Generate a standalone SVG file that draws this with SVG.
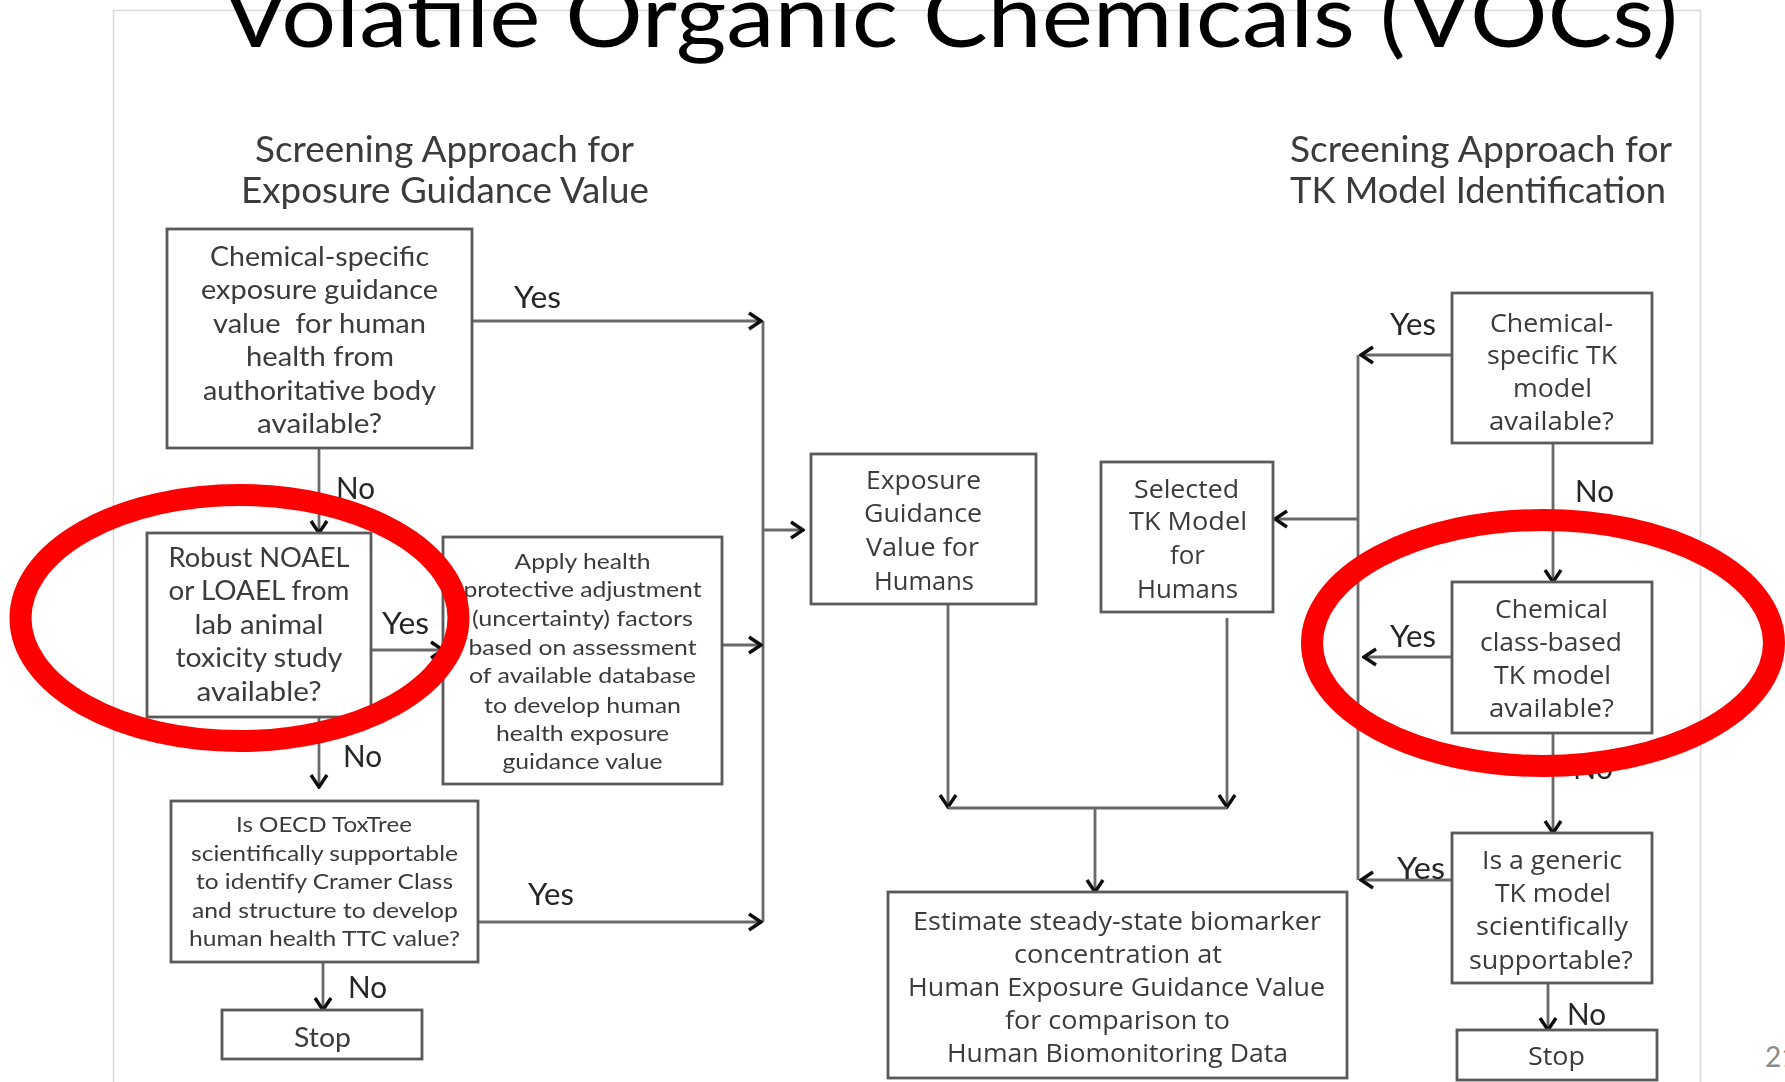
<svg xmlns="http://www.w3.org/2000/svg" width="1785" height="1082" viewBox="0 0 1785 1082">
  <defs>
    <marker id="arr" markerUnits="userSpaceOnUse" viewBox="0 0 16 20" refX="14" refY="10" markerWidth="16" markerHeight="20" orient="auto">
      <path d="M2,2 L14,10 L2,18" fill="none" stroke="#111" stroke-width="3.4" stroke-linejoin="miter"/>
    </marker>
    <filter id="soft" x="-2%" y="-2%" width="104%" height="104%">
      <feGaussianBlur stdDeviation="0.6"/>
    </filter>
    <style>
      .frame { fill: none; stroke: #dadada; stroke-width: 1.5; }
      .title { font-family: Lato, "Open Sans", sans-serif; font-size: 88px; fill: #000; }
      .sub { font-family: Lato, "Open Sans", sans-serif; font-size: 36px; fill: #3a3a3a; }
      .box { fill: #fff; stroke: #5a5a5a; stroke-width: 2.8; }
      .cal { font-family: Lato, "Open Sans", sans-serif; font-size: 26px; fill: #3a3a3a; }
      .cal-s { font-family: Lato, "Open Sans", sans-serif; font-size: 22px; fill: #3a3a3a; }
      .tah { font-family: "Open Sans", "DejaVu Sans", sans-serif; font-size: 25px; fill: #3a3a3a; }
      .lbl { font-family: Lato, "Open Sans", sans-serif; font-size: 30px; fill: #262626; }
      .conn path { fill: none; stroke: #6a6a6a; stroke-width: 2.8; }
      .conn .a { marker-end: url(#arr); }
      .ring { fill: none; stroke: #ff0000; stroke-width: 22; }
      .pg { font-family: Lato, "Open Sans", sans-serif; font-size: 28px; fill: #8a8a8a; }
    </style>
  </defs>

  <rect width="1785" height="1082" fill="#fff"/>
  <rect class="frame" x="113.5" y="10.5" width="1587" height="1100"/>

  <text class="title" x="223" y="47" textLength="1455" lengthAdjust="spacingAndGlyphs">Volatile Organic Chemicals (VOCs)</text>

  <g id="flowchart" filter="url(#soft)">
    <g id="heading-left">
      <text class="sub" x="255" y="162" textLength="379" lengthAdjust="spacingAndGlyphs">Screening Approach for</text>
      <text class="sub" x="241" y="203" textLength="408" lengthAdjust="spacingAndGlyphs">Exposure Guidance Value</text>
    </g>
    <g id="heading-right">
      <text class="sub" x="1290" y="162" textLength="382" lengthAdjust="spacingAndGlyphs">Screening Approach for</text>
      <text class="sub" x="1290" y="203" textLength="376" lengthAdjust="spacingAndGlyphs">TK Model Identification</text>
    </g>

    <!-- connectors -->
    <g id="connectors" class="conn">
      <path d="M763,321 V922"/>
      <path class="a" d="M472,321 H761"/>
      <path class="a" d="M319,448 V533"/>
      <path class="a" d="M371,650 H443"/>
      <path class="a" d="M319,717 V787"/>
      <path class="a" d="M722,645 H761"/>
      <path class="a" d="M763,530 H803"/>
      <path class="a" d="M478,922 H761"/>
      <path class="a" d="M323,962 V1010"/>
      <path class="a" d="M948,604 V807"/>
      <path class="a" d="M1227,618 V807"/>
      <path d="M948,808 H1227"/>
      <path class="a" d="M1095,808 V892"/>
      <path d="M1358,355 V880"/>
      <path class="a" d="M1452,355 H1361"/>
      <path class="a" d="M1358,519 H1275"/>
      <path class="a" d="M1452,657 H1364"/>
      <path class="a" d="M1452,880 H1361"/>
      <path class="a" d="M1553,443 V582"/>
      <path class="a" d="M1553,733 V833"/>
      <path class="a" d="M1548,983 V1030"/>
    </g>

    <g id="connector-labels">
      <text class="lbl" x="514" y="308" textLength="47" lengthAdjust="spacingAndGlyphs">Yes</text>
      <text class="lbl" x="336" y="499" textLength="39" lengthAdjust="spacingAndGlyphs">No</text>
      <text class="lbl" x="382" y="634" textLength="47" lengthAdjust="spacingAndGlyphs">Yes</text>
      <text class="lbl" x="343" y="767" textLength="39" lengthAdjust="spacingAndGlyphs">No</text>
      <text class="lbl" x="528" y="905" textLength="46" lengthAdjust="spacingAndGlyphs">Yes</text>
      <text class="lbl" x="348" y="998" textLength="39" lengthAdjust="spacingAndGlyphs">No</text>
      <text class="lbl" x="1390" y="335" textLength="46" lengthAdjust="spacingAndGlyphs">Yes</text>
      <text class="lbl" x="1575" y="502" textLength="39" lengthAdjust="spacingAndGlyphs">No</text>
      <text class="lbl" x="1390" y="647" textLength="46" lengthAdjust="spacingAndGlyphs">Yes</text>
      <text class="lbl" x="1573" y="779" textLength="40" lengthAdjust="spacingAndGlyphs">No</text>
      <text class="lbl" x="1397" y="879" textLength="48" lengthAdjust="spacingAndGlyphs">Yes</text>
      <text class="lbl" x="1567" y="1025" textLength="39" lengthAdjust="spacingAndGlyphs">No</text>
    </g>

    <!-- left column: exposure guidance value -->
    <g id="n-guidance-available">
      <rect class="box" x="167" y="229" width="305" height="219"/>
      <text class="cal" x="210" y="266" textLength="219" lengthAdjust="spacingAndGlyphs">Chemical-specific</text>
      <text class="cal" x="201" y="299" textLength="237" lengthAdjust="spacingAndGlyphs">exposure guidance</text>
      <text class="cal" x="213" y="333" textLength="213" lengthAdjust="spacingAndGlyphs" xml:space="preserve">value  for human</text>
      <text class="cal" x="246" y="366" textLength="148" lengthAdjust="spacingAndGlyphs">health from</text>
      <text class="cal" x="203" y="400" textLength="233" lengthAdjust="spacingAndGlyphs">authoritative body</text>
      <text class="cal" x="257" y="433" textLength="125" lengthAdjust="spacingAndGlyphs">available?</text>
    </g>

    <g id="n-noael">
      <rect class="box" x="147" y="533" width="224" height="184"/>
      <text class="cal" x="168.5" y="567" textLength="181" lengthAdjust="spacingAndGlyphs">Robust NOAEL</text>
      <text class="cal" x="168.5" y="600" textLength="181" lengthAdjust="spacingAndGlyphs">or LOAEL from</text>
      <text class="cal" x="194.5" y="634" textLength="129" lengthAdjust="spacingAndGlyphs">lab animal</text>
      <text class="cal" x="175.5" y="667" textLength="167" lengthAdjust="spacingAndGlyphs">toxicity study</text>
      <text class="cal" x="196.5" y="701" textLength="125" lengthAdjust="spacingAndGlyphs">available?</text>
    </g>

    <g id="n-adjustment">
      <rect class="box" x="443" y="537" width="279" height="247"/>
      <text class="cal-s" x="514.5" y="569" textLength="136" lengthAdjust="spacingAndGlyphs">Apply health</text>
      <text class="cal-s" x="463.5" y="597" textLength="238" lengthAdjust="spacingAndGlyphs">protective adjustment</text>
      <text class="cal-s" x="472" y="626" textLength="221" lengthAdjust="spacingAndGlyphs">(uncertainty) factors</text>
      <text class="cal-s" x="468.5" y="655" textLength="228" lengthAdjust="spacingAndGlyphs">based on assessment</text>
      <text class="cal-s" x="469" y="683" textLength="227" lengthAdjust="spacingAndGlyphs">of available database</text>
      <text class="cal-s" x="484" y="713" textLength="197" lengthAdjust="spacingAndGlyphs">to develop human</text>
      <text class="cal-s" x="496" y="741" textLength="173" lengthAdjust="spacingAndGlyphs">health exposure</text>
      <text class="cal-s" x="502.5" y="769" textLength="160" lengthAdjust="spacingAndGlyphs">guidance value</text>
    </g>

    <g id="n-toxtree">
      <rect class="box" x="171" y="801" width="307" height="161"/>
      <text class="cal-s" x="236" y="832" textLength="176" lengthAdjust="spacingAndGlyphs">Is OECD ToxTree</text>
      <text class="cal-s" x="191" y="861" textLength="267" lengthAdjust="spacingAndGlyphs">scientifically supportable</text>
      <text class="cal-s" x="196" y="889" textLength="257" lengthAdjust="spacingAndGlyphs">to identify Cramer Class</text>
      <text class="cal-s" x="192" y="918" textLength="266" lengthAdjust="spacingAndGlyphs">and structure to develop</text>
      <text class="cal-s" x="189" y="946" textLength="271" lengthAdjust="spacingAndGlyphs">human health TTC value?</text>
    </g>

    <g id="n-stop-left">
      <rect class="box" x="222" y="1010" width="200" height="49"/>
      <text class="cal" x="294" y="1047" textLength="57" lengthAdjust="spacingAndGlyphs">Stop</text>
    </g>

    <!-- centre -->
    <g id="n-egv-humans">
      <rect class="box" x="811" y="454" width="225" height="150"/>
      <text class="tah" x="866" y="489" textLength="115" lengthAdjust="spacingAndGlyphs">Exposure</text>
      <text class="tah" x="864" y="522" textLength="118" lengthAdjust="spacingAndGlyphs">Guidance</text>
      <text class="tah" x="866" y="556" textLength="113" lengthAdjust="spacingAndGlyphs">Value for</text>
      <text class="tah" x="874" y="590" textLength="100" lengthAdjust="spacingAndGlyphs">Humans</text>
    </g>

    <g id="n-tk-selected">
      <rect class="box" x="1101" y="462" width="172" height="150"/>
      <text class="tah" x="1134" y="498" textLength="105" lengthAdjust="spacingAndGlyphs">Selected</text>
      <text class="tah" x="1129" y="530" textLength="118" lengthAdjust="spacingAndGlyphs">TK Model</text>
      <text class="tah" x="1170" y="564" textLength="35" lengthAdjust="spacingAndGlyphs">for</text>
      <text class="tah" x="1137" y="598" textLength="101" lengthAdjust="spacingAndGlyphs">Humans</text>
    </g>

    <g id="n-biomarker">
      <rect class="box" x="888" y="892" width="459" height="186"/>
      <text class="tah" x="913" y="930" textLength="408" lengthAdjust="spacingAndGlyphs">Estimate steady-state biomarker</text>
      <text class="tah" x="1014" y="963" textLength="208" lengthAdjust="spacingAndGlyphs">concentration at</text>
      <text class="tah" x="908" y="996" textLength="417" lengthAdjust="spacingAndGlyphs">Human Exposure Guidance Value</text>
      <text class="tah" x="1005" y="1029" textLength="225" lengthAdjust="spacingAndGlyphs">for comparison to</text>
      <text class="tah" x="947" y="1062" textLength="341" lengthAdjust="spacingAndGlyphs">Human Biomonitoring Data</text>
    </g>

    <!-- right column: TK model identification -->
    <g id="n-tk-specific">
      <rect class="box" x="1452" y="293" width="200" height="150"/>
      <text class="tah" x="1490" y="332" textLength="123" lengthAdjust="spacingAndGlyphs">Chemical-</text>
      <text class="tah" x="1487" y="364" textLength="130" lengthAdjust="spacingAndGlyphs">specific TK</text>
      <text class="tah" x="1513" y="397" textLength="79" lengthAdjust="spacingAndGlyphs">model</text>
      <text class="tah" x="1489" y="430" textLength="125" lengthAdjust="spacingAndGlyphs">available?</text>
    </g>

    <g id="n-tk-class">
      <rect class="box" x="1452" y="582" width="200" height="151"/>
      <text class="tah" x="1495" y="618" textLength="113" lengthAdjust="spacingAndGlyphs">Chemical</text>
      <text class="tah" x="1480" y="651" textLength="142" lengthAdjust="spacingAndGlyphs">class-based</text>
      <text class="tah" x="1494" y="684" textLength="117" lengthAdjust="spacingAndGlyphs">TK model</text>
      <text class="tah" x="1489" y="717" textLength="125" lengthAdjust="spacingAndGlyphs">available?</text>
    </g>

    <g id="n-tk-generic">
      <rect class="box" x="1452" y="833" width="200" height="150"/>
      <text class="tah" x="1482" y="869" textLength="140" lengthAdjust="spacingAndGlyphs">Is a generic</text>
      <text class="tah" x="1495" y="902" textLength="116" lengthAdjust="spacingAndGlyphs">TK model</text>
      <text class="tah" x="1476" y="935" textLength="152" lengthAdjust="spacingAndGlyphs">scientifically</text>
      <text class="tah" x="1469" y="969" textLength="164" lengthAdjust="spacingAndGlyphs">supportable?</text>
    </g>

    <g id="n-stop-right">
      <rect class="box" x="1457" y="1030" width="200" height="50"/>
      <text class="tah" x="1528" y="1065" textLength="57" lengthAdjust="spacingAndGlyphs">Stop</text>
    </g>
  </g>

  <!-- highlight rings -->
  <g id="highlights">
    <ellipse class="ring" cx="239.5" cy="618" rx="219" ry="123"/>
    <ellipse class="ring" cx="1543" cy="643" rx="231" ry="123"/>
  </g>

  <text class="pg" x="1765" y="1067">21</text>
</svg>
